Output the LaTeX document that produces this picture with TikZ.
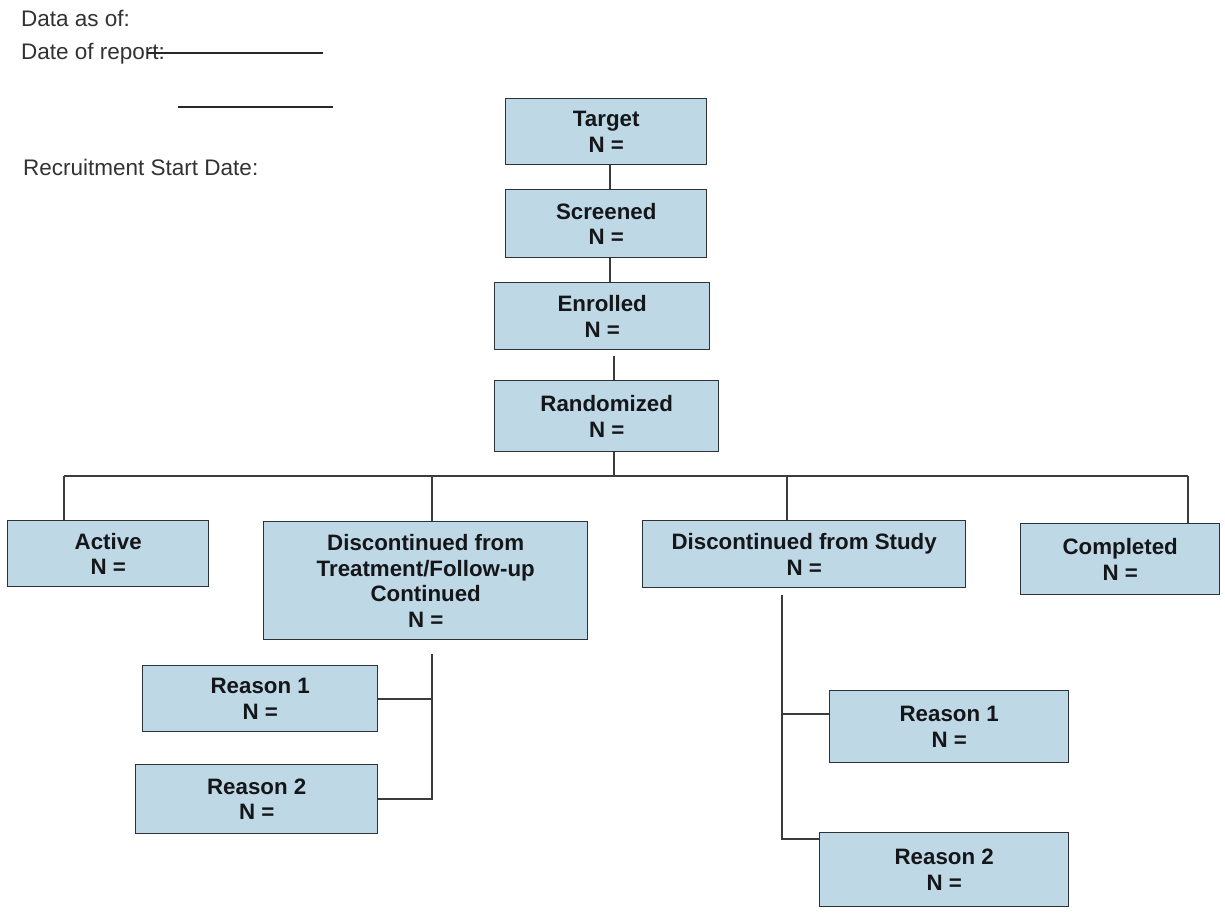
\documentclass[tikz,border=0pt]{standalone}
\usepackage{fontspec}
\setmainfont{Liberation Sans}
\definecolor{boxfill}{RGB}{190,216,229}
\definecolor{boxline}{RGB}{45,50,55}
\definecolor{conn}{RGB}{60,60,60}
\definecolor{hdr}{RGB}{50,50,50}
\definecolor{boxtext}{RGB}{20,22,25}
\tikzset{
  flowbox/.style={draw=boxline, line width=1.4pt, fill=boxfill, anchor=north west,
    inner sep=0pt, align=center, text=boxtext,
    font=\fontsize{22.3}{25.5}\selectfont\bfseries},
  hdrtext/.style={anchor=west, inner sep=0pt, text=hdr, font=\fontsize{22.5}{25}\selectfont},
  link/.style={draw=conn, line width=2pt},
  rule/.style={draw=black!85, line width=2pt}
}
\newcommand{\myflowbox}[6]{% name, x1, y1, x2, y2, text
  \node[flowbox, minimum width={#4-#2}, minimum height={#5-#3}] (#1) at (#2,#3) {#6};}
\begin{document}
\begin{tikzpicture}[x=1pt,y=-1pt]
\useasboundingbox (0,0) rectangle (1225,913);
% header
\node[hdrtext] (h1) at (21,18) {Data as of:};
\node[hdrtext] (h2) at (21,54) {Date of report:};
\node[hdrtext] (h3) at (23,167) {Recruitment Start Date:};
\coordinate (l1a) at (147,53); \coordinate (l1b) at (323,53);
\coordinate (l2a) at (178,107); \coordinate (l2b) at (333,107);
\draw[rule] (l1a) -- (l1b);
\draw[rule] (l2a) -- (l2b);
% boxes
\myflowbox{Target}{505}{98}{706}{164}{Target\\N =}
\myflowbox{Screened}{505}{189}{706}{257}{Screened\\N =}
\myflowbox{Enrolled}{494}{282}{709}{349}{Enrolled\\N =}
\myflowbox{Rand}{494}{380}{718}{451}{Randomized\\N =}
\myflowbox{Active}{7}{520}{208}{586}{Active\\N =}
\myflowbox{DT}{263}{521}{587}{639}{Discontinued from\\Treatment/Follow-up\\Continued\\N =}
\myflowbox{DS}{642}{520}{965}{587}{Discontinued from Study\\N =}
\myflowbox{Comp}{1020}{523}{1219}{594}{Completed\\N =}
\myflowbox{RLa}{142}{665}{377}{731}{Reason 1\\N =}
\myflowbox{RLb}{135}{764}{377}{833}{Reason 2\\N =}
\myflowbox{RRa}{829}{690}{1068}{762}{Reason 1\\N =}
\myflowbox{RRb}{819}{832}{1068}{906}{Reason 2\\N =}
% connectors, top chain
\coordinate (cx) at (610,0);
\coordinate (e1) at (614,356);
\coordinate (j0) at (614,476);
\draw[link] (Target.south -| cx) -- (Screened.north -| cx);
\draw[link] (Screened.south -| cx) -- (Enrolled.north -| cx);
\draw[link] (e1) -- (e1 |- Rand.north);
\draw[link] (Rand.south -| j0) -- (j0);
% branch bar
\coordinate (jL) at (64,476);
\coordinate (jT) at (432,476);
\coordinate (jS) at (787,476);
\coordinate (jR) at (1188,476);
\draw[link] (jL) -- (jR);
\draw[link] (jL) -- (jL |- Active.north);
\draw[link] (jT) -- (jT |- DT.north);
\draw[link] (jS) -- (jS |- DS.north);
\draw[link] (jR) -- (jR |- Comp.north);
% left reasons
\coordinate (lt) at (432,654);
\draw[link] (lt) -- (lt |- RLb.east) -- (RLb.east);
\draw[link] (RLa.east) -- (RLa.east -| lt);
% right reasons
\coordinate (rt) at (782,595);
\coordinate (rm) at (782,714);
\coordinate (rb) at (782,839);
\draw[link] (rt) -- (rb) -- (rb -| RRb.west);
\draw[link] (rm) -- (rm -| RRa.west);
\end{tikzpicture}
\end{document}
